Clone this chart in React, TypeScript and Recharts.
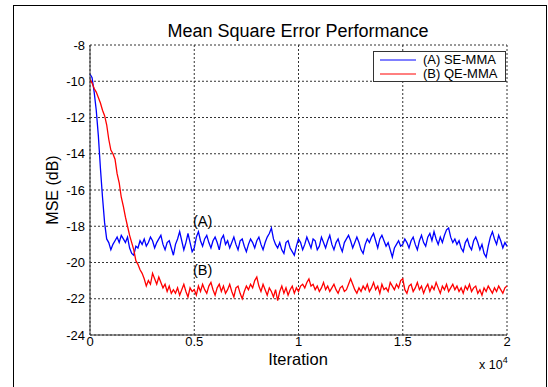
import React from 'react'
import { LineChart, Line, XAxis, YAxis, CartesianGrid, Legend } from 'recharts'

// iterations run 0..20000 in steps of 100 (one value per step below)
const ITER_STEP = 100

const xTicks = [0, 5000, 10000, 15000, 20000]
const yTicks = [-24, -22, -20, -18, -16, -14, -12, -10, -8]

// (A) SE-MMA, MSE in dB
const seMma = [
  -9.6, -9.8, -10.6, -11.6, -13.0, -14.8, -16.4, -17.8, -18.7, -18.9,
  -19.3, -19.0, -18.8, -18.6, -18.9, -18.5, -18.7, -18.9, -18.6, -19.2,
  -19.5, -19.6, -19.1, -19.2, -18.8, -19.0, -18.7, -19.1, -18.9, -18.6,
  -18.8, -19.2, -18.9, -18.7, -18.5, -19.0, -19.3, -18.9, -18.8, -19.2,
  -19.6, -19.0, -18.7, -18.3, -18.8, -19.3, -18.9, -18.4, -18.9, -19.4,
  -19.2, -18.6, -18.3, -18.8, -19.1, -18.7, -18.5, -18.9, -19.2, -18.8,
  -18.6, -18.9, -19.3, -18.7, -18.5, -19.0, -18.8, -19.2, -18.9, -18.6,
  -19.0, -19.3, -18.8, -18.7, -19.1, -19.4, -19.0, -18.7, -18.9, -19.2,
  -18.8, -18.6, -19.0, -19.3, -18.9, -18.6, -18.4, -18.1, -18.7, -19.0,
  -19.2, -18.9, -19.3, -19.5, -18.9, -18.8, -19.2, -19.4, -19.6, -19.1,
  -18.7, -18.9, -19.3, -19.0, -18.6, -18.9, -19.2, -18.7, -18.8, -19.3,
  -19.1, -18.6, -18.9, -19.2, -18.8, -18.5, -19.0, -19.3, -18.9, -18.7,
  -19.1, -19.4, -18.9, -18.7, -18.5, -18.8, -19.2, -18.9, -18.6, -18.9,
  -19.3, -19.5, -19.0, -18.7, -18.9, -18.6, -18.4, -18.8, -19.2, -18.7,
  -18.5, -18.8, -19.1, -18.9, -19.3, -19.7, -19.2, -19.0, -18.8, -19.1,
  -19.0, -18.7, -18.9, -19.2, -18.8, -18.6, -19.0, -19.3, -18.8, -18.5,
  -18.9, -19.1, -18.6, -18.4, -18.8, -18.3, -18.7, -19.0, -18.6, -18.9,
  -18.5, -18.2, -18.1, -18.6, -18.9, -18.7, -19.0, -18.8, -19.2, -19.4,
  -18.9, -18.7, -19.1, -19.3, -18.8, -18.6, -18.9, -19.3, -19.0, -19.5,
  -19.7, -19.1, -18.6, -18.3, -18.7, -19.0, -18.5, -18.8, -19.2, -18.9,
  -19.1,
]

// (B) QE-MMA, MSE in dB
const qeMma = [
  -9.9, -10.1, -10.4, -10.6, -10.9, -11.2, -11.6, -11.9, -12.4, -13.2,
  -13.8, -14.0, -14.3, -15.1, -15.6, -16.4, -16.9, -17.5, -18.0, -18.5,
  -18.9, -19.3, -19.9, -20.1, -20.4, -20.6, -20.9, -21.3, -21.0, -21.2,
  -20.6, -20.9, -21.2, -20.8, -21.1, -21.4, -21.2, -21.6, -21.3, -21.7,
  -21.5, -21.7, -21.4, -21.8, -21.5, -21.2, -21.6, -21.9, -21.4, -21.6,
  -21.5, -21.8, -21.3, -21.6, -21.2, -21.5, -21.7, -21.3, -21.1, -21.5,
  -21.8, -21.4, -21.2, -21.6, -21.3, -21.7, -21.5, -21.2, -21.6, -21.9,
  -21.4, -21.3, -21.7, -22.0, -21.6, -21.3, -21.5, -21.2, -21.4, -21.0,
  -20.8, -21.3, -21.6, -21.2, -21.5, -21.8, -21.4, -21.6, -21.9, -21.5,
  -22.1, -21.6, -21.3, -21.7, -21.4, -21.8, -21.5, -21.3, -21.7, -21.4,
  -21.6, -21.3, -21.2, -21.4, -21.1, -20.9, -21.3, -21.2, -21.5, -21.3,
  -21.6, -21.4, -21.1, -21.5, -21.3, -21.6, -21.4, -21.2, -21.5, -21.7,
  -21.4, -21.3, -21.6, -21.5, -21.2, -20.9, -21.2, -21.5, -21.7, -21.4,
  -21.6, -21.3, -21.5, -21.2, -21.6, -21.4, -21.1, -21.5, -21.3, -21.7,
  -21.2, -21.5, -21.4, -21.6, -21.1, -21.3, -21.5, -21.2, -21.4, -21.0,
  -20.9, -21.5, -21.7, -21.3, -21.2, -21.6, -21.4, -21.1, -21.5, -21.3,
  -21.7, -21.4, -21.2, -21.6, -21.3, -21.5, -21.1, -21.4, -21.7, -21.3,
  -21.5, -21.2, -21.6, -21.4, -21.2, -21.5, -21.3, -21.6, -21.4, -21.7,
  -21.3, -21.5, -21.2, -21.6, -21.4, -21.3, -21.7, -21.5, -21.8, -21.4,
  -21.6, -21.3, -21.5, -21.7, -21.4, -21.6, -21.3, -21.5, -21.7, -21.4,
  -21.3,
]

const seriesNames = ['(A) SE-MMA', '(B) QE-MMA']
const seriesColors = ['#0000ff', '#ff0000']

const data = seMma.map((a, i) => ({ iter: i * ITER_STEP, a, b: qeMma[i] }))

const FONT = '"Liberation Sans", Arial, sans-serif'

function LegendBox() {
  return (
    <div style={{ width: 133, height: 31, boxSizing: 'border-box', border: '1px solid #333', background: '#fff', fontFamily: FONT, fontSize: 13, color: '#000' }}>
      {seriesNames.map((n, i) => (
        <div key={n} style={{ display: 'flex', alignItems: 'center', height: 14, marginTop: i === 0 ? 1 : 0 }}>
          <svg width={48} height={14}>
            <line x1={6} x2={42} y1={7} y2={7} stroke={seriesColors[i]} strokeWidth={1} />
          </svg>
          <span style={{ marginLeft: 1, lineHeight: '14px' }}>{n}</span>
        </div>
      ))}
    </div>
  )
}

export default function App() {
  return (
    <div style={{ position: 'absolute', left: 0, top: 0, width: 548, height: 387, overflow: 'hidden', background: '#fff' }}>
      <div style={{ position: 'absolute', left: 13, top: 5, width: 534, height: 400, border: '1px solid #000', boxSizing: 'border-box' }} />
      <div style={{ position: 'absolute', left: 0, top: 0 }}>
        <LineChart width={548} height={387} data={data} margin={{ top: 45, right: 41, bottom: 22, left: 0 }}>
          <CartesianGrid stroke="#333" strokeDasharray="2 2" />
          <XAxis
            dataKey="iter"
            type="number"
            domain={[0, 20000]}
            ticks={xTicks}
            tickFormatter={(v: number) => String(v / 10000)}
            height={30}
            tickLine={false}
            tickSize={0}
            tickMargin={2}
            axisLine={{ stroke: '#333' }}
            tick={{ fill: '#000', fontSize: 13, fontFamily: FONT }}
          />
          <XAxis xAxisId="top" orientation="top" type="number" domain={[0, 20000]} height={0} tick={false} tickLine={false} axisLine={{ stroke: '#333' }} />
          <YAxis
            domain={[-24, -8]}
            ticks={yTicks}
            width={90}
            tickLine={false}
            tickSize={3}
            tickMargin={2}
            axisLine={{ stroke: '#333' }}
            tick={{ fill: '#000', fontSize: 13, fontFamily: FONT }}
          />
          <YAxis yAxisId="right" orientation="right" domain={[-24, -8]} width={0} tick={false} tickLine={false} axisLine={{ stroke: '#333' }} />
          <Line dataKey="a" name={seriesNames[0]} stroke={seriesColors[0]} strokeWidth={1.3} dot={false} isAnimationActive={false} />
          <Line dataKey="b" name={seriesNames[1]} stroke={seriesColors[1]} strokeWidth={1.3} dot={false} isAnimationActive={false} />
          <Legend
            layout="horizontal"
            verticalAlign="middle"
            align="center"
            content={() => <LegendBox />}
            wrapperStyle={{ position: 'absolute', left: 373, top: 51, width: 133, height: 31 }}
          />
          <text x={298} y={37} textAnchor="middle" fontFamily={FONT} fontSize={18} fill="#000">Mean Square Error Performance</text>
          <text x={298} y={365} textAnchor="middle" fontFamily={FONT} fontSize={16.5} fill="#000">Iteration</text>
          <text x={58} y={190} textAnchor="middle" fontFamily={FONT} fontSize={16} fill="#000" transform="rotate(-90 58 190)">MSE (dB)</text>
          <text x={479} y={369} fontFamily={FONT} fontSize={12.5} fill="#000">x 10<tspan dy={-6} fontSize={9}>4</tspan></text>
          <text x={193} y={226} fontFamily={FONT} fontSize={14.5} fill="#000">(A)</text>
          <text x={193} y={275} fontFamily={FONT} fontSize={14.5} fill="#000">(B)</text>
        </LineChart>
      </div>
    </div>
  )
}
